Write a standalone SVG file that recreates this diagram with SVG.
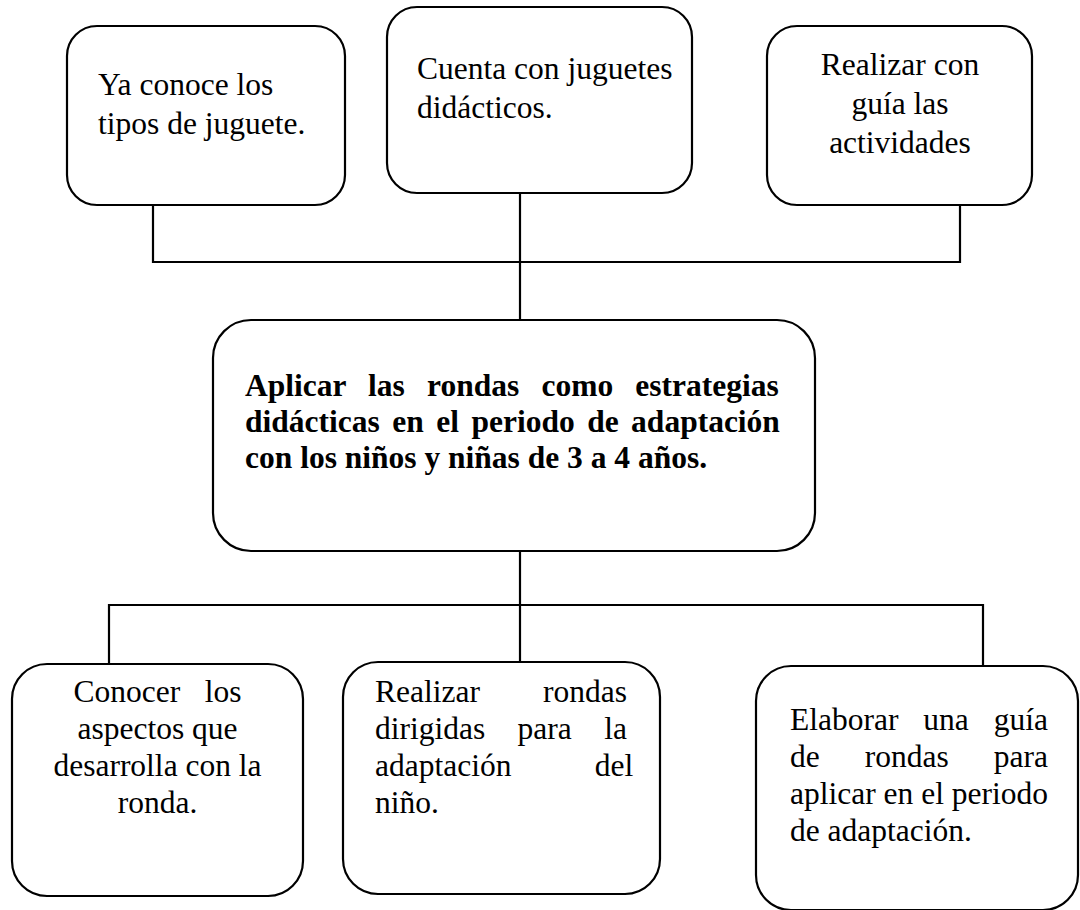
<svg xmlns="http://www.w3.org/2000/svg" width="1080" height="910" viewBox="0 0 1080 910">
<style>
.box{fill:#fff;stroke:#000;stroke-width:2.2}
.con{fill:none;stroke:#000;stroke-width:2.2}
.t{font-family:"Liberation Serif","Times New Roman",serif;font-size:31.5px;fill:#000}
.b{font-weight:bold}
.c{text-anchor:middle}
</style>
<rect width="1080" height="910" fill="#fff"/>
<g id="connectors">
<polyline class="con" points="153,205 153,262 960,262 960,205"/>
<line class="con" x1="520" y1="193" x2="520" y2="320"/>
<line class="con" x1="520" y1="551" x2="520" y2="662"/>
<polyline class="con" points="109,664 109,605 983,605 983,666"/>
</g>
<g id="n1">
<rect class="box" x="67" y="26" width="278" height="179" rx="30"/>
<text class="t" x="98" y="95">Ya conoce los</text>
<text class="t" x="98" y="134">tipos de juguete.</text>
</g>
<g id="n2">
<rect class="box" x="387" y="7" width="305" height="186" rx="30"/>
<text class="t" x="417" y="79">Cuenta con juguetes</text>
<text class="t" x="417" y="118">didácticos.</text>
</g>
<g id="n3">
<rect class="box" x="767" y="26" width="265" height="179" rx="30"/>
<text class="t c" x="900" y="75">Realizar con</text>
<text class="t c" x="900" y="114">guía las</text>
<text class="t c" x="900" y="153">actividades</text>
</g>
<g id="center">
<rect class="box" x="213" y="320" width="602" height="231" rx="38"/>
<text class="t b" x="245" y="396" word-spacing="14.3">Aplicar las rondas como estrategias</text>
<text class="t b" x="245" y="432" word-spacing="4.6">didácticas en el periodo de adaptación</text>
<text class="t b" x="245" y="468">con los niños y niñas de 3 a 4 años.</text>
</g>
<g id="n4">
<rect class="box" x="12" y="664" width="291" height="232" rx="35"/>
<text class="t c" x="157.5" y="702" word-spacing="16.6">Conocer los</text>
<text class="t c" x="157.5" y="739">aspectos que</text>
<text class="t c" x="157.5" y="776">desarrolla con la</text>
<text class="t c" x="157.5" y="813">ronda.</text>
</g>
<g id="n5">
<rect class="box" x="343" y="662" width="317" height="232" rx="35"/>
<text class="t" x="375" y="702" word-spacing="55.2">Realizar rondas</text>
<text class="t" x="375" y="739" word-spacing="24.5">dirigidas para la</text>
<text class="t" x="375" y="776" word-spacing="75.4">adaptación del</text>
<text class="t" x="375" y="813">niño.</text>
</g>
<g id="n6">
<rect class="box" x="756" y="666" width="322" height="244" rx="35"/>
<text class="t" x="790" y="730" word-spacing="17">Elaborar una guía</text>
<text class="t" x="790" y="767" word-spacing="37.1">de rondas para</text>
<text class="t" x="790" y="804">aplicar en el periodo</text>
<text class="t" x="790" y="841">de adaptación.</text>
</g>
</svg>
